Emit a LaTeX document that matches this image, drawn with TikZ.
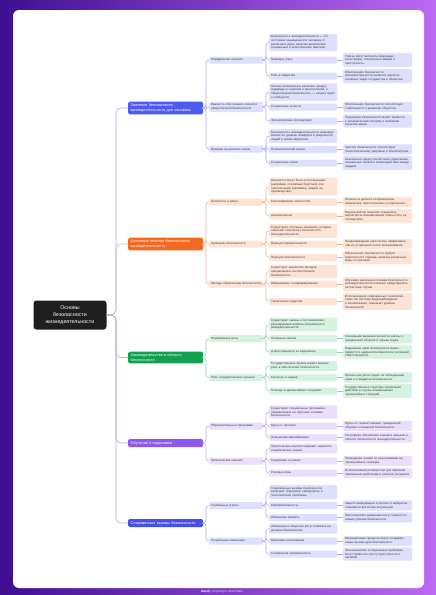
\documentclass[tikz,border=0pt]{standalone}
\usepackage{fontspec}
\setmainfont{Liberation Sans}
\hyphenpenalty=10000
\exhyphenpenalty=10000
\definecolor{rootc}{HTML}{1E1E1E}
\definecolor{txt}{HTML}{3A3A3A}
\definecolor{cA}{HTML}{4E5BF2}\definecolor{cAl}{HTML}{DDE0FC}\definecolor{cAk}{HTML}{A7AEF7}
\definecolor{cB}{HTML}{F26A21}\definecolor{cBl}{HTML}{FDE3D4}\definecolor{cBk}{HTML}{F6B18A}
\definecolor{cC}{HTML}{12A150}\definecolor{cCl}{HTML}{D5F1E0}\definecolor{cCk}{HTML}{8FD4AB}
\definecolor{cD}{HTML}{8E58EE}\definecolor{cDl}{HTML}{E9DFFC}\definecolor{cDk}{HTML}{C0A6F6}
\definecolor{cE}{HTML}{474FEA}\definecolor{cEl}{HTML}{DDDFFC}\definecolor{cEk}{HTML}{A7ABF6}
\definecolor{bgL}{HTML}{3F0E92}\definecolor{bgR}{HTML}{BC6AF3}
\begin{document}
\begin{tikzpicture}[x=1pt,y=-1pt,
  rootbox/.style={fill=rootc,text=white,rounded corners=3pt,align=center,
    font=\fontsize{5.3}{7.3}\selectfont,minimum width=73pt,minimum height=29pt,inner sep=2pt},
  brbox/.style={fill=#1,text=white,rounded corners=1.5pt,anchor=west,align=left,
    text width=70pt,inner xsep=2.5pt,inner ysep=2pt,minimum height=8pt,
    font=\fontsize{3.8}{5}\selectfont},
  lvtwo/.style={fill=#1,text=txt,rounded corners=1.2pt,anchor=west,align=left,
    text width=50pt,inner xsep=2pt,inner ysep=1.8pt,minimum height=7pt,
    font=\fontsize{3}{3.7}\selectfont},
  lvthree/.style={lvtwo=#1,text width=64pt},
  lvfour/.style={lvtwo=#1,text width=65pt},
  conn/.style={draw=#1,line width=0.55pt,rounded corners=3pt},
  rconn/.style={draw=#1,line width=0.6pt,rounded corners=5pt}]
\useasboundingbox (0,0) rectangle (436,595);
\shade[left color=bgL,right color=bgR] (0,0) rectangle (436,595);
\fill[white,rounded corners=6pt] (13,10) rectangle (424,588);
\node[text=white,font=\fontsize{3}{3.5}\selectfont] (foot) at (222,592)
  {\textbf{Mapify}\enspace{\color{white!75!bgR}Anything to mind maps}};

\coordinate (T0) at (116,0);
\coordinate (T1) at (206,0);
\coordinate (T2) at (266,0);

\newcommand\lnk[4]{\draw[conn=#4] (#1.east) -- (#1.east -| #3) -- (#3 |- #2.west) -- (#2.west);}
\newcommand\rlnk[3]{\draw[rconn=#3] (#1.east) -- (#1.east -| T0) -- (T0 |- #2.west) -- (#2.west);}
\newcommand\slnk[3]{\draw[conn=#3] (#1.east) -- (#2.west);}

% root
\node[rootbox] (R) at (70,315) {Основы\\безопасности\\жизнедеятельности};

% ---------- branch A
\node[brbox=cA] (A) at (128,108) {Значение безопасности жизнедеятельности для человека};
\node[lvtwo=cAl] (a1) at (209,60) {Определение понятия};
\node[lvtwo=cAl] (a2) at (209,107) {Важность обеспечения личной и общественной безопасности};
\node[lvtwo=cAl] (a3) at (209,149) {Влияние на качество жизни};
\node[lvthree=cAl] (a1d) at (269,42.5) {Безопасность жизнедеятельности — это состояние защищенности человека от различных угроз, включая физические, социальные и экологические факторы.};
\node[lvthree=cAl] (a1p) at (269,60) {Примеры угроз};
\node[lvfour=cAl] (a1pl) at (343,60) {Угрозы могут включать природные катастрофы, техногенные аварии и преступность.};
\node[lvthree=cAl] (a1q) at (269,76) {Роль в обществе};
\node[lvfour=cAl] (a1ql) at (343,76) {Обеспечение безопасности жизнедеятельности является одной из основных задач государства и общества.};
\node[lvthree=cAl] (a2d) at (269,92) {Личная безопасность включает защиту индивида от насилия и преступлений, а общественная безопасность — защиту групп и сообществ.};
\node[lvthree=cAl] (a2p) at (269,107) {Социальные аспекты};
\node[lvfour=cAl] (a2pl) at (343,107) {Обеспечение безопасности способствует стабильности и развитию общества.};
\node[lvthree=cAl] (a2q) at (269,121) {Экономические последствия};
\node[lvfour=cAl] (a2ql) at (343,121) {Нарушение безопасности может привести к экономическим потерям и снижению качества жизни.};
\node[lvthree=cAl] (a3d) at (269,136) {Безопасность жизнедеятельности напрямую влияет на уровень комфорта и уверенности людей в своем окружении.};
\node[lvthree=cAl] (a3p) at (269,149.5) {Психологический аспект};
\node[lvfour=cAl] (a3pl) at (343,149.5) {Чувство безопасности способствует психологическому здоровью и благополучию.};
\node[lvthree=cAl] (a3q) at (269,163) {Социальные связи};
\node[lvfour=cAl] (a3ql) at (343,163) {Безопасная среда способствует укреплению социальных связей и взаимодействия между людьми.};

% ---------- branch B
\node[brbox=cB] (B) at (128,244) {Ключевые понятия безопасности жизнедеятельности};
\node[lvtwo=cBl] (b1) at (209,202) {Опасности и риски};
\node[lvtwo=cBl] (b2) at (209,244) {Принципы безопасности};
\node[lvtwo=cBl] (b3) at (209,284) {Методы обеспечения безопасности};
\node[lvthree=cBl] (b1d) at (269,186.5) {Опасности могут быть естественными (например, стихийные бедствия) или техногенными (например, аварии на производстве).};
\node[lvthree=cBl] (b1p) at (269,202) {Классификация опасностей};
\node[lvfour=cBl] (b1pl) at (343,202) {Опасности делятся на физические, химические, биологические и социальные.};
\node[lvthree=cBl] (b1q) at (269,216) {Оценка рисков};
\node[lvfour=cBl] (b1ql) at (343,216) {Оценка рисков помогает определить вероятность возникновения опасности и ее последствия.};
\node[lvthree=cBl] (b2d) at (269,231) {Существуют основные принципы, которые помогают обеспечить безопасность жизнедеятельности.};
\node[lvthree=cBl] (b2p) at (269,244) {Принцип превентивности};
\node[lvfour=cBl] (b2pl) at (343,244) {Предотвращение угроз более эффективно, чем их устранение после возникновения.};
\node[lvthree=cBl] (b2q) at (269,257.5) {Принцип комплексности};
\node[lvfour=cBl] (b2ql) at (343,257.5) {Обеспечение безопасности требует комплексного подхода, включая различные меры и стратегии.};
\node[lvthree=cBl] (b3d) at (269,271.5) {Существует множество методов, направленных на обеспечение безопасности.};
\node[lvthree=cBl] (b3p) at (269,284) {Образование и информирование};
\node[lvfour=cBl] (b3pl) at (343,284) {Обучение населения основам безопасности жизнедеятельности помогает предотвратить несчастные случаи.};
\node[lvthree=cBl] (b3q) at (269,301.5) {Технические средства};
\node[lvfour=cBl] (b3ql) at (343,301.5) {Использование современных технологий, таких как системы видеонаблюдения и сигнализации, повышает уровень безопасности.};

% ---------- branch C
\node[brbox=cC] (C) at (128,357.5) {Законодательство в области безопасности};
\node[lvtwo=cCl] (c1) at (209,338.5) {Нормативные акты};
\node[lvtwo=cCl] (c2) at (209,377.5) {Роль государственных органов};
\node[lvthree=cCl] (c1d) at (269,324.5) {Существуют законы и постановления, регулирующие вопросы безопасности жизнедеятельности.};
\node[lvthree=cCl] (c1p) at (269,338.5) {Основные законы};
\node[lvfour=cCl] (c1pl) at (343,338.5) {Ключевыми законами являются законы о гражданской обороне и охране труда.};
\node[lvthree=cCl] (c1q) at (269,352) {Ответственность за нарушения};
\node[lvfour=cCl] (c1ql) at (343,352) {Нарушение норм безопасности может привести к административной или уголовной ответственности.};
\node[lvthree=cCl] (c2d) at (269,366) {Государственные органы играют важную роль в обеспечении безопасности.};
\node[lvthree=cCl] (c2p) at (269,377.5) {Контроль и надзор};
\node[lvfour=cCl] (c2pl) at (343,377.5) {Органы контроля следят за соблюдением норм и стандартов безопасности.};
\node[lvthree=cCl] (c2q) at (269,391) {Помощь в чрезвычайных ситуациях};
\node[lvfour=cCl] (c2ql) at (343,391) {Государственные структуры организуют действия в случае возникновения чрезвычайных ситуаций.};

% ---------- branch D
\node[brbox=cD] (D) at (128,443) {Обучение и подготовка};
\node[lvtwo=cDl] (d1) at (209,426) {Образовательные программы};
\node[lvtwo=cDl] (d2) at (209,461) {Практические занятия};
\node[lvthree=cDl] (d1d) at (269,412) {Существуют специальные программы, направленные на обучение основам безопасности.};
\node[lvthree=cDl] (d1p) at (269,426) {Курсы и тренинги};
\node[lvfour=cDl] (d1pl) at (343,426) {Курсы по первой помощи, гражданской обороне и пожарной безопасности.};
\node[lvthree=cDl] (d1q) at (269,437.5) {Повышение квалификации};
\node[lvfour=cDl] (d1ql) at (343,437.5) {Регулярное обновление знаний и навыков в области безопасности жизнедеятельности.};
\node[lvthree=cDl] (d2d) at (269,448.5) {Практические занятия помогают закрепить теоретические знания.};
\node[lvthree=cDl] (d2p) at (269,461) {Симуляции и учения};
\node[lvfour=cDl] (d2pl) at (343,461) {Проведение учений по реагированию на чрезвычайные ситуации.};
\node[lvthree=cDl] (d2q) at (269,473) {Ролевые игры};
\node[lvfour=cDl] (d2ql) at (343,473) {Использование ролевых игр для обучения правильным действиям в опасных ситуациях.};

% ---------- branch E
\node[brbox=cE] (E) at (128,523) {Современные вызовы безопасности};
\node[lvtwo=cEl] (e1) at (209,505.5) {Глобальные угрозы};
\node[lvtwo=cEl] (e2) at (209,541) {Социальные изменения};
\node[lvthree=cEl] (e1d) at (269,492) {Современные вызовы безопасности включают терроризм, киберугрозы и экологические проблемы.};
\node[lvthree=cEl] (e1p) at (269,505.5) {Кибербезопасность};
\node[lvfour=cEl] (e1pl) at (343,505.5) {Защита информации и систем от кибератак становится все более актуальной.};
\node[lvthree=cEl] (e1q) at (269,517.5) {Изменение климата};
\node[lvfour=cEl] (e1ql) at (343,517.5) {Экологические изменения могут привести к новым угрозам безопасности.};
\node[lvthree=cEl] (e2d) at (269,528.5) {Изменения в обществе могут повлиять на уровень безопасности.};
\node[lvthree=cEl] (e2p) at (269,541) {Миграция и интеграция};
\node[lvfour=cEl] (e2pl) at (343,541) {Миграционные процессы могут создавать новые вызовы для безопасности.};
\node[lvthree=cEl] (e2q) at (269,554) {Социальная напряженность};
\node[lvfour=cEl] (e2ql) at (343,554) {Экономические и социальные проблемы могут привести к росту преступности и насилию.};

% ---------- connectors
\begin{scope}[on background layer/.style={}]
\rlnk{R}{A}{cAk}\rlnk{R}{B}{cBk}\rlnk{R}{C}{cCk}\rlnk{R}{D}{cDk}\rlnk{R}{E}{cEk}
\lnk{A}{a1}{T1}{cAk}\lnk{A}{a2}{T1}{cAk}\lnk{A}{a3}{T1}{cAk}
\lnk{a1}{a1d}{T2}{cAk}\lnk{a1}{a1p}{T2}{cAk}\lnk{a1}{a1q}{T2}{cAk}
\lnk{a2}{a2d}{T2}{cAk}\lnk{a2}{a2p}{T2}{cAk}\lnk{a2}{a2q}{T2}{cAk}
\lnk{a3}{a3d}{T2}{cAk}\lnk{a3}{a3p}{T2}{cAk}\lnk{a3}{a3q}{T2}{cAk}
\slnk{a1p}{a1pl}{cAk}\slnk{a1q}{a1ql}{cAk}\slnk{a2p}{a2pl}{cAk}\slnk{a2q}{a2ql}{cAk}\slnk{a3p}{a3pl}{cAk}\slnk{a3q}{a3ql}{cAk}
\lnk{B}{b1}{T1}{cBk}\lnk{B}{b2}{T1}{cBk}\lnk{B}{b3}{T1}{cBk}
\lnk{b1}{b1d}{T2}{cBk}\lnk{b1}{b1p}{T2}{cBk}\lnk{b1}{b1q}{T2}{cBk}
\lnk{b2}{b2d}{T2}{cBk}\lnk{b2}{b2p}{T2}{cBk}\lnk{b2}{b2q}{T2}{cBk}
\lnk{b3}{b3d}{T2}{cBk}\lnk{b3}{b3p}{T2}{cBk}\lnk{b3}{b3q}{T2}{cBk}
\slnk{b1p}{b1pl}{cBk}\slnk{b1q}{b1ql}{cBk}\slnk{b2p}{b2pl}{cBk}\slnk{b2q}{b2ql}{cBk}\slnk{b3p}{b3pl}{cBk}\slnk{b3q}{b3ql}{cBk}
\lnk{C}{c1}{T1}{cCk}\lnk{C}{c2}{T1}{cCk}
\lnk{c1}{c1d}{T2}{cCk}\lnk{c1}{c1p}{T2}{cCk}\lnk{c1}{c1q}{T2}{cCk}
\lnk{c2}{c2d}{T2}{cCk}\lnk{c2}{c2p}{T2}{cCk}\lnk{c2}{c2q}{T2}{cCk}
\slnk{c1p}{c1pl}{cCk}\slnk{c1q}{c1ql}{cCk}\slnk{c2p}{c2pl}{cCk}\slnk{c2q}{c2ql}{cCk}
\lnk{D}{d1}{T1}{cDk}\lnk{D}{d2}{T1}{cDk}
\lnk{d1}{d1d}{T2}{cDk}\lnk{d1}{d1p}{T2}{cDk}\lnk{d1}{d1q}{T2}{cDk}
\lnk{d2}{d2d}{T2}{cDk}\lnk{d2}{d2p}{T2}{cDk}\lnk{d2}{d2q}{T2}{cDk}
\slnk{d1p}{d1pl}{cDk}\slnk{d1q}{d1ql}{cDk}\slnk{d2p}{d2pl}{cDk}\slnk{d2q}{d2ql}{cDk}
\lnk{E}{e1}{T1}{cEk}\lnk{E}{e2}{T1}{cEk}
\lnk{e1}{e1d}{T2}{cEk}\lnk{e1}{e1p}{T2}{cEk}\lnk{e1}{e1q}{T2}{cEk}
\lnk{e2}{e2d}{T2}{cEk}\lnk{e2}{e2p}{T2}{cEk}\lnk{e2}{e2q}{T2}{cEk}
\slnk{e1p}{e1pl}{cEk}\slnk{e1q}{e1ql}{cEk}\slnk{e2p}{e2pl}{cEk}\slnk{e2q}{e2ql}{cEk}
\end{scope}
\end{tikzpicture}
\end{document}
